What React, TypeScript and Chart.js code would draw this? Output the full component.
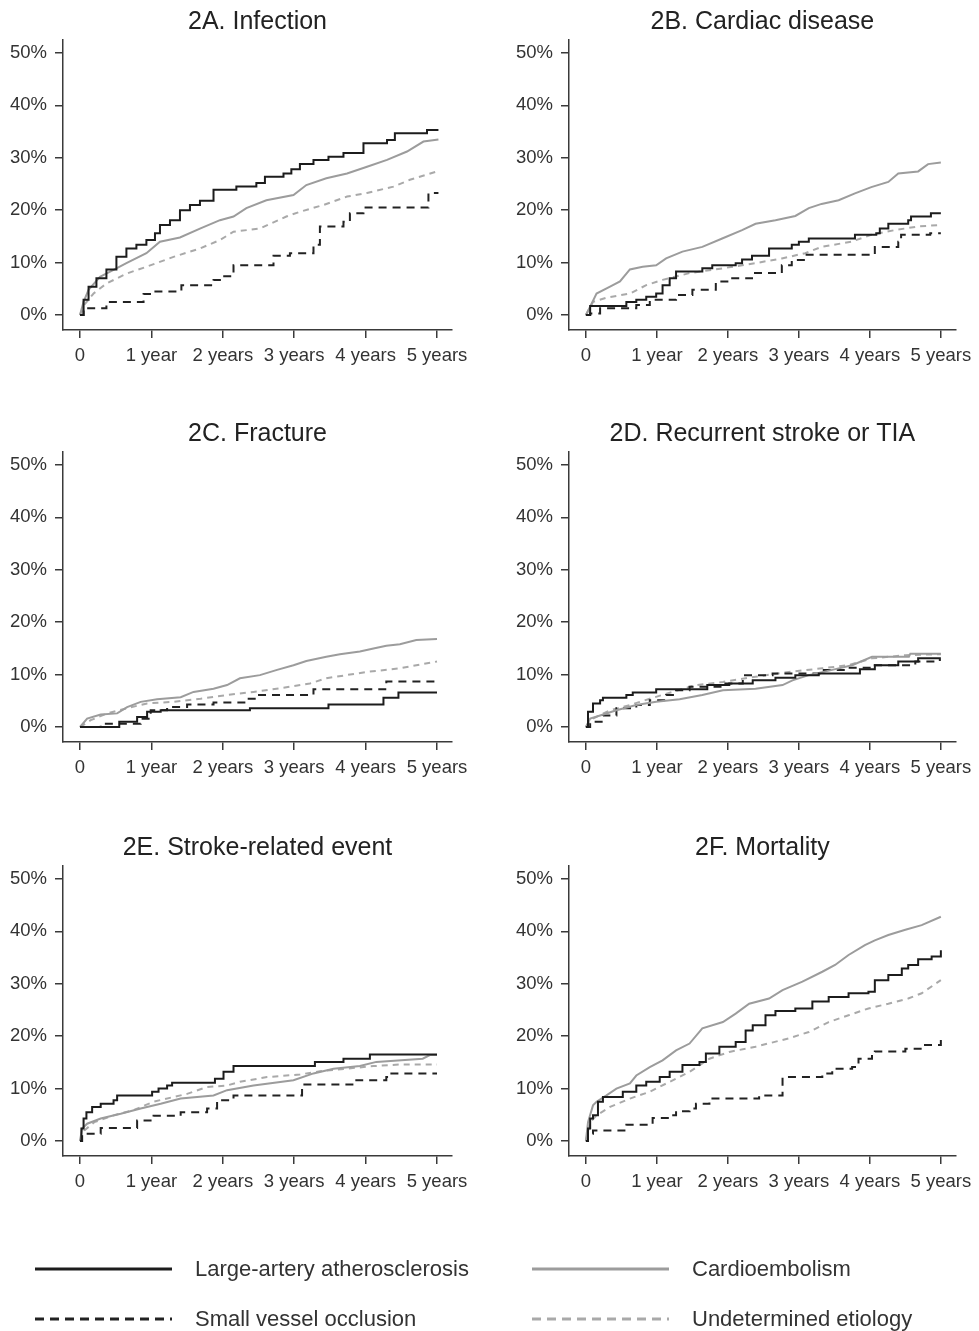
import { useEffect, useRef } from 'react';
import { Chart, registerables } from 'chart.js';
Chart.register(...registerables);

type Pt = [number, number];

// x axis (years) and y axis (%) ticks
const xTickValues = [0, 1, 2, 3, 4, 5];
const xTickLabels = ['0', '1 year', '2 years', '3 years', '4 years', '5 years'];
const yTickValues = [0, 10, 20, 30, 40, 50];
const yTickLabels = ['0%', '10%', '20%', '30%', '40%', '50%'];

const seriesNames = ['Large-artery atherosclerosis', 'Cardioembolism', 'Small vessel occlusion', 'Undetermined etiology'];

// 2A Infection
const infLAA: Pt[] = [[0,0],[0.05,2.9],[0.12,5.4],[0.23,7.0],[0.37,8.7],[0.51,11.1],[0.65,12.7],[0.79,13.4],[0.93,14.3],[1.05,15.6],[1.12,17.2],[1.26,18.1],[1.40,20.0],[1.54,21.0],[1.68,21.8],[1.87,23.9],[2.19,24.5],[2.47,25.2],[2.59,26.4],[2.85,27.0],[2.96,27.8],[3.08,28.8],[3.27,29.6],[3.48,30.2],[3.69,30.9],[3.97,32.8],[4.30,33.4],[4.41,34.7],[4.86,35.3],[5.02,35.3]];
const infCE: Pt[] = [[0,0],[0.05,2.5],[0.12,4.8],[0.28,7.3],[0.47,8.6],[0.65,9.9],[0.93,11.8],[1.12,14.0],[1.40,14.8],[1.68,16.5],[1.96,18.1],[2.15,18.8],[2.33,20.4],[2.61,21.9],[2.99,22.9],[3.17,24.8],[3.45,26.1],[3.74,27.0],[4.02,28.3],[4.30,29.6],[4.58,31.2],[4.81,33.1],[5.02,33.5]];
const infSVO: Pt[] = [[0,0],[0.05,1.3],[0.37,2.5],[0.89,4.0],[0.98,4.5],[1.42,5.7],[1.87,6.7],[1.99,7.4],[2.15,9.5],[2.71,11.3],[2.94,11.8],[3.27,13.4],[3.36,16.9],[3.69,17.8],[3.78,19.4],[3.97,20.5],[4.88,23.3],[5.02,23.3]];
const infUND: Pt[] = [[0,0],[0.05,1.8],[0.19,4.1],[0.37,6.0],[0.65,7.9],[0.93,9.2],[1.31,11.1],[1.68,12.7],[1.96,14.3],[2.15,15.9],[2.52,16.5],[2.89,18.8],[3.08,19.7],[3.41,21.0],[3.74,22.6],[4.02,23.3],[4.39,24.5],[4.62,25.8],[5.02,27.5]];

// 2B Cardiac disease
const cardLAA: Pt[] = [[0,0],[0.06,1.7],[0.57,2.5],[0.71,2.9],[0.85,3.5],[0.99,4.1],[1.08,5.7],[1.18,7.0],[1.27,8.3],[1.64,8.9],[1.78,9.5],[2.11,9.9],[2.20,10.6],[2.34,11.3],[2.58,12.7],[2.90,13.4],[3.00,14.0],[3.14,14.6],[3.79,15.3],[4.09,15.6],[4.14,16.5],[4.26,17.4],[4.54,18.1],[4.58,18.8],[4.86,19.4],[5.0,19.4]];
const cardCE: Pt[] = [[0,0],[0.06,1.6],[0.15,4.1],[0.34,5.4],[0.48,6.4],[0.62,8.7],[0.80,9.2],[0.99,9.5],[1.13,10.8],[1.36,12.1],[1.64,13.0],[1.92,14.6],[2.20,16.2],[2.39,17.4],[2.67,18.1],[2.95,18.9],[3.14,20.4],[3.32,21.2],[3.56,21.9],[3.79,23.2],[4.02,24.4],[4.26,25.4],[4.40,27.0],[4.68,27.4],[4.82,28.8],[5.0,29.1]];
const cardSVO: Pt[] = [[0,0],[0.06,0.3],[0.20,1.3],[0.71,1.9],[0.90,2.9],[1.27,3.8],[1.50,4.8],[1.83,6.4],[2.02,7.0],[2.34,8.0],[2.76,9.5],[2.90,10.5],[3.09,11.5],[4.07,13.0],[4.40,14.0],[4.44,15.3],[4.85,15.6],[5.0,15.6]];
const cardUND: Pt[] = [[0,0],[0.10,2.5],[0.29,3.3],[0.62,4.1],[0.85,5.7],[1.08,6.7],[1.46,8.0],[1.92,8.9],[2.39,9.9],[2.76,10.8],[3.09,11.8],[3.32,13.0],[3.74,14.0],[4.02,15.3],[4.35,16.2],[4.68,16.9],[5.0,17.2]];

// 2C Fracture
const fracLAA: Pt[] = [[0,0],[0.55,1.0],[0.80,1.9],[0.94,2.9],[1.13,3.2],[2.38,3.6],[3.48,4.3],[4.25,5.6],[4.46,6.6],[5.0,6.6]];
const fracCE: Pt[] = [[0,0],[0.10,1.6],[0.29,2.4],[0.52,2.6],[0.66,3.8],[0.85,4.8],[1.08,5.3],[1.41,5.7],[1.59,6.7],[1.87,7.3],[2.06,8.0],[2.24,9.3],[2.52,9.9],[2.76,10.9],[2.99,11.8],[3.17,12.6],[3.45,13.4],[3.64,13.9],[3.92,14.4],[4.11,15.0],[4.29,15.5],[4.48,15.8],[4.71,16.6],[5.0,16.8]];
const fracSVO: Pt[] = [[0,0],[0.29,0.6],[0.85,1.6],[0.99,3.2],[1.22,3.8],[1.50,4.3],[1.87,4.7],[2.34,5.4],[2.48,6.1],[3.27,7.2],[4.29,8.7],[5.0,8.7]];
const fracUND: Pt[] = [[0,0],[0.15,1.3],[0.38,2.6],[0.66,3.6],[0.94,4.5],[1.31,4.8],[1.69,5.4],[2.06,6.1],[2.43,6.7],[2.85,7.5],[3.22,8.3],[3.45,9.3],[3.73,9.9],[4.01,10.5],[4.48,11.2],[5.0,12.5]];

// 2D Recurrent stroke or TIA
const recLAA: Pt[] = [[0,0],[0.03,2.9],[0.10,4.5],[0.20,5.1],[0.24,5.6],[0.57,6.1],[0.66,6.6],[0.99,7.2],[1.71,8.0],[2.02,8.3],[2.35,8.9],[2.67,9.4],[2.95,9.9],[3.28,10.2],[3.86,11.0],[4.07,11.8],[4.40,12.5],[4.68,13.1],[5.0,13.1]];
const recCE: Pt[] = [[0,0],[0.06,1.6],[0.20,2.2],[0.43,3.2],[0.71,4.2],[0.99,4.8],[1.32,5.3],[1.64,6.1],[1.93,7.0],[2.39,7.3],[2.77,8.0],[2.91,8.9],[3.14,9.9],[3.47,10.9],[3.75,11.8],[4.03,13.4],[4.55,13.4],[4.57,14.0],[5.0,14.0]];
const recSVO: Pt[] = [[0,0],[0.06,1.0],[0.24,2.2],[0.43,3.6],[0.71,4.2],[0.90,5.1],[1.13,6.1],[1.27,7.0],[1.46,7.7],[1.93,8.3],[2.21,9.9],[2.63,10.2],[3.33,10.9],[3.70,11.3],[4.07,11.8],[4.64,12.5],[4.91,12.8],[5.0,12.8]];
const recUND: Pt[] = [[0,0],[0.10,1.6],[0.34,3.2],[0.62,4.2],[0.90,5.4],[1.22,6.7],[1.55,8.0],[1.93,8.6],[2.39,9.6],[2.86,10.5],[3.33,11.2],[3.70,11.8],[4.03,13.1],[4.50,13.7],[5.0,13.9]];

// 2E Stroke-related event
const strLAA: Pt[] = [[0,0],[0.02,2.4],[0.05,4.3],[0.09,5.5],[0.17,6.5],[0.29,7.1],[0.47,7.8],[0.52,8.7],[1.01,9.4],[1.10,10.0],[1.22,10.6],[1.29,11.1],[1.89,11.9],[2.01,13.2],[2.15,14.3],[3.29,15.1],[3.69,15.7],[4.06,16.5],[5.0,16.5]];
const strCE: Pt[] = [[0,0],[0.03,2.4],[0.10,3.3],[0.29,4.3],[0.57,5.2],[0.85,6.2],[1.13,7.1],[1.41,8.1],[1.87,8.7],[2.06,9.7],[2.43,10.6],[2.99,11.6],[3.27,12.9],[3.55,13.8],[3.92,14.3],[4.15,15.1],[4.80,15.7],[4.90,16.4],[5.0,16.4]];
const strSVO: Pt[] = [[0,0],[0.03,1.4],[0.29,2.5],[0.80,3.9],[1.03,4.8],[1.41,5.5],[1.78,6.2],[1.92,7.8],[2.15,8.7],[3.11,10.8],[3.87,11.6],[4.29,12.2],[4.32,12.9],[5.0,12.9]];
const strUND: Pt[] = [[0,0],[0.06,2.0],[0.20,3.6],[0.47,4.9],[0.75,5.9],[1.03,7.5],[1.31,8.4],[1.50,9.0],[1.78,10.3],[2.06,10.6],[2.24,11.3],[2.62,12.2],[3.08,12.7],[3.36,13.3],[3.73,13.8],[4.11,14.3],[4.48,14.6],[5.0,14.6]];

// 2F Mortality
const morLAA: Pt[] = [[0,0],[0.03,2.4],[0.06,4.3],[0.10,4.9],[0.17,7.5],[0.24,8.4],[0.52,9.4],[0.71,10.6],[0.85,11.3],[1.04,12.2],[1.18,13.2],[1.36,14.5],[1.60,15.1],[1.69,16.7],[1.88,18.0],[2.11,18.9],[2.25,21.1],[2.35,22.1],[2.53,24.0],[2.67,24.8],[2.95,25.3],[3.19,26.6],[3.42,27.5],[3.70,28.2],[3.98,28.5],[4.07,30.7],[4.26,31.7],[4.45,32.9],[4.54,33.6],[4.68,34.7],[4.87,35.2],[5.0,36.4]];
const morCE: Pt[] = [[0,0],[0.03,3.6],[0.10,6.8],[0.15,7.5],[0.29,8.7],[0.43,10.0],[0.62,11.0],[0.71,12.5],[0.90,14.1],[1.08,15.4],[1.27,17.3],[1.46,18.6],[1.64,21.5],[1.93,22.7],[2.11,24.3],[2.30,26.2],[2.58,27.2],[2.77,28.8],[3.05,30.4],[3.33,32.3],[3.51,33.6],[3.70,35.5],[3.93,37.4],[4.07,38.3],[4.26,39.3],[4.50,40.3],[4.73,41.2],[5.0,42.8]];
const morSVO: Pt[] = [[0,0],[0.03,1.4],[0.10,2.0],[0.57,3.1],[0.94,4.4],[1.18,4.9],[1.27,5.7],[1.46,6.2],[1.55,7.1],[1.74,8.1],[2.44,8.7],[2.77,12.2],[3.33,12.9],[3.47,13.8],[3.75,14.1],[3.84,15.7],[4.03,16.4],[4.07,17.1],[4.50,17.6],[4.73,18.3],[5.0,20.2]];
const morUND: Pt[] = [[0,0],[0.06,3.6],[0.15,4.9],[0.34,6.5],[0.62,8.1],[0.90,9.4],[1.18,11.3],[1.46,13.2],[1.74,15.7],[2.02,17.0],[2.39,18.0],[2.86,19.6],[3.14,20.8],[3.42,22.7],[3.70,24.0],[3.98,25.3],[4.26,26.2],[4.54,27.2],[4.73,28.2],[5.0,30.7]];

const panelTitles = ['2A. Infection', '2B. Cardiac disease', '2C. Fracture', '2D. Recurrent stroke or TIA', '2E. Stroke-related event', '2F. Mortality'];
const panelSeries: Pt[][][] = [
  [infLAA, infCE, infSVO, infUND],
  [cardLAA, cardCE, cardSVO, cardUND],
  [fracLAA, fracCE, fracSVO, fracUND],
  [recLAA, recCE, recSVO, recUND],
  [strLAA, strCE, strSVO, strUND],
  [morLAA, morCE, morSVO, morUND],
];

const FONT = '"Liberation Sans", Arial, sans-serif';
const AXIS = '#3a3a3a';
const TEXT = '#333333';
const seriesStyle = [
  { color: '#1c1c1c', dash: [] as number[], stepped: true },
  { color: '#9c9c9c', dash: [] as number[], stepped: false },
  { color: '#222222', dash: [8, 6], stepped: true },
  { color: '#a9a9a9', dash: [6, 5], stepped: false },
];

const CANVAS_H = 400;
const PLOT_LEFT = 63;
const PLOT_RIGHT = 452;
const PLOT_TOP = 40;
const PLOT_BOTTOM = 330;

function Panel({ index, left, top, width }: { index: number; left: number; top: number; width: number }) {
  const ref = useRef<HTMLCanvasElement>(null);
  useEffect(() => {
    const title = panelTitles[index];
    const titlePlugin = {
      id: 'panelTitle',
      afterDraw(chart: any) {
        const { ctx, chartArea } = chart;
        ctx.save();
        ctx.font = `25px ${FONT}`;
        ctx.fillStyle = '#222';
        ctx.textAlign = 'center';
        ctx.textBaseline = 'middle';
        ctx.fillText(title, (chartArea.left + chartArea.right) / 2, 22);
        ctx.restore();
      },
    };
    const datasets = panelSeries[index].map((pts, i) => ({
      label: seriesNames[i],
      data: pts.map(([x, y]) => ({ x, y })),
      borderColor: seriesStyle[i].color,
      borderWidth: 2,
      borderDash: seriesStyle[i].dash,
      stepped: seriesStyle[i].stepped,
      pointRadius: 0,
      fill: false,
      tension: 0,
    }));
    const chart = new Chart(ref.current!, {
      type: 'line',
      data: { datasets },
      options: {
        animation: false,
        responsive: false,
        maintainAspectRatio: false,
        events: [],
        layout: { padding: { left: 0, top: PLOT_TOP, right: width - PLOT_RIGHT, bottom: CANVAS_H - PLOT_BOTTOM - 40 } },
        plugins: { legend: { display: false }, tooltip: { enabled: false }, title: { display: false } },
        scales: {
          x: {
            type: 'linear',
            min: -0.238,
            max: 5.21,
            afterBuildTicks: (s: any) => { s.ticks = xTickValues.map((v) => ({ value: v })); },
            afterFit: (s: any) => { s.height = 40; },
            ticks: {
              autoSkip: false,
              maxRotation: 0,
              padding: 7,
              color: TEXT,
              font: { family: FONT, size: 18.5 },
              callback: (_v: any, i: number) => xTickLabels[i],
            },
            grid: { drawOnChartArea: false, drawTicks: true, tickLength: 8, color: AXIS, lineWidth: 1.5 },
            border: { display: true, color: AXIS, width: 1.5 },
          },
          y: {
            type: 'linear',
            min: -2.86,
            max: 52.48,
            afterBuildTicks: (s: any) => { s.ticks = yTickValues.map((v) => ({ value: v })); },
            afterFit: (s: any) => { s.width = PLOT_LEFT; },
            ticks: {
              autoSkip: false,
              padding: 8,
              color: TEXT,
              font: { family: FONT, size: 18.5 },
              callback: (_v: any, i: number) => yTickLabels[i],
            },
            grid: { drawOnChartArea: false, drawTicks: true, tickLength: 8, color: AXIS, lineWidth: 1.5 },
            border: { display: true, color: AXIS, width: 1.5 },
          },
        },
      },
      plugins: [titlePlugin],
    } as any);
    return () => chart.destroy();
  }, [index, width]);
  return (
    <canvas
      ref={ref}
      width={width}
      height={CANVAS_H}
      style={{ position: 'absolute', left, top, width, height: CANVAS_H }}
    />
  );
}

const legendStyle = [
  { color: '#1c1c1c', dash: '' },
  { color: '#9c9c9c', dash: '' },
  { color: '#222222', dash: '9 6' },
  { color: '#a9a9a9', dash: '9 6' },
];

export default function App() {
  const rowTops = [0, 412, 826];
  const colLefts = [0, 506];
  const colWidths = [500, 473];
  const legendPos = [
    { x: 35, y: 1269 },
    { x: 532, y: 1269 },
    { x: 35, y: 1319 },
    { x: 532, y: 1319 },
  ];
  return (
    <div style={{ position: 'absolute', left: 0, top: 0, width: 979, height: 1331, background: '#fff', overflow: 'hidden' }}>
      {panelTitles.map((_, i) => (
        <Panel key={i} index={i} left={colLefts[i % 2]} top={rowTops[Math.floor(i / 2)]} width={colWidths[i % 2]} />
      ))}
      <svg width={979} height={1331} style={{ position: 'absolute', left: 0, top: 0, pointerEvents: 'none' }}>
        {legendPos.map((p, i) => (
          <line
            key={i}
            x1={p.x}
            x2={p.x + 137}
            y1={p.y}
            y2={p.y}
            stroke={legendStyle[i].color}
            strokeWidth={3}
            strokeDasharray={legendStyle[i].dash || undefined}
          />
        ))}
      </svg>
      {legendPos.map((p, i) => (
        <div
          key={i}
          style={{
            position: 'absolute',
            left: p.x + 160,
            top: p.y - 14,
            height: 28,
            lineHeight: '28px',
            fontFamily: FONT,
            fontSize: 22,
            color: TEXT,
            whiteSpace: 'nowrap',
          }}
        >
          {seriesNames[i]}
        </div>
      ))}
    </div>
  );
}
